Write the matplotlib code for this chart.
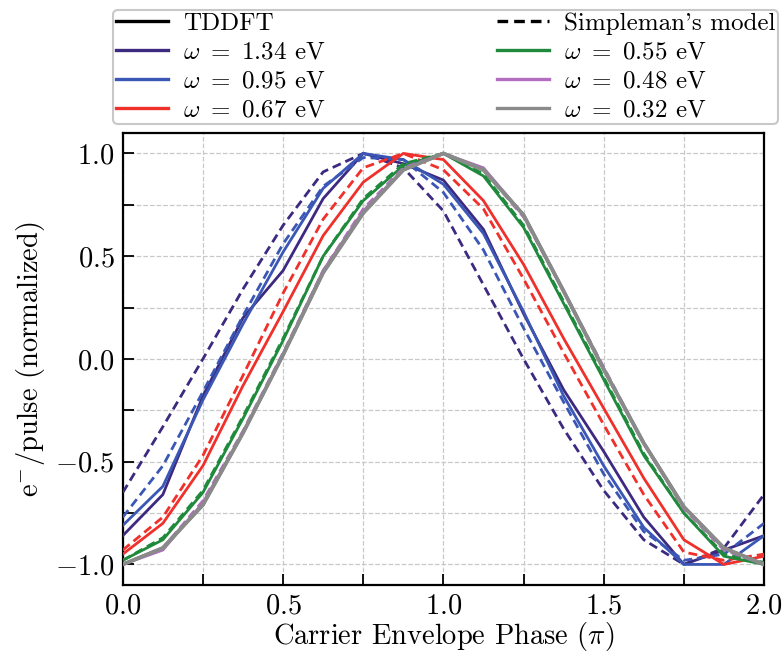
import numpy as np
import matplotlib
matplotlib.use("Agg")
import matplotlib.pyplot as plt
from matplotlib.lines import Line2D
from matplotlib.ticker import MultipleLocator

plt.rcParams['font.family'] = ['cmr10', 'DejaVu Serif']
plt.rcParams['mathtext.fontset'] = 'cm'
plt.rcParams['axes.formatter.use_mathtext'] = True

# carrier envelope phase (units of pi)
cep = np.arange(17) * 0.125

omega_labels = ['1.34', '0.95', '0.67', '0.55', '0.48', '0.32']
colors = ['#3d2a80', '#3a57b5', '#f0302a', '#1f8a3c', '#b26cc0', '#8a8a8a']

# TDDFT (solid)
tddft_134 = [-0.86, -0.66, -0.18, 0.20, 0.43, 0.78, 1.00, 0.95, 0.87, 0.63, 0.22, -0.15, -0.45, -0.77, -1.00, -0.93, -0.86]
tddft_095 = [-0.81, -0.62, -0.20, 0.17, 0.52, 0.83, 1.00, 0.97, 0.85, 0.61, 0.23, -0.18, -0.52, -0.82, -1.00, -1.00, -0.86]
tddft_067 = [-0.95, -0.80, -0.52, -0.13, 0.23, 0.60, 0.86, 1.00, 0.97, 0.77, 0.46, 0.10, -0.24, -0.58, -0.88, -1.00, -0.96]
tddft_055 = [-0.98, -0.88, -0.65, -0.29, 0.09, 0.50, 0.77, 0.94, 1.00, 0.89, 0.64, 0.27, -0.10, -0.47, -0.75, -0.96, -1.00]
tddft_048 = [-1.00, -0.93, -0.70, -0.36, 0.02, 0.43, 0.72, 0.92, 1.00, 0.93, 0.70, 0.33, -0.05, -0.41, -0.72, -0.92, -1.00]
tddft_032 = [-1.00, -0.92, -0.71, -0.36, 0.02, 0.42, 0.71, 0.92, 1.00, 0.92, 0.70, 0.33, -0.05, -0.41, -0.72, -0.92, -1.00]

# Simpleman's model (dashed)
simple_134 = [-0.65, -0.33, 0.00, 0.34, 0.65, 0.91, 1.00, 0.93, 0.72, 0.36, 0.00, -0.34, -0.64, -0.88, -1.00, -0.92, -0.66]
simple_095 = [-0.77, -0.52, -0.16, 0.21, 0.56, 0.84, 0.98, 0.97, 0.81, 0.53, 0.15, -0.21, -0.56, -0.84, -0.98, -0.95, -0.80]
simple_067 = [-0.93, -0.77, -0.47, -0.08, 0.32, 0.68, 0.93, 1.00, 0.92, 0.73, 0.39, 0.03, -0.32, -0.66, -0.94, -0.98, -0.95]
simple_055 = [-0.98, -0.87, -0.64, -0.28, 0.10, 0.50, 0.78, 0.95, 1.00, 0.90, 0.65, 0.28, -0.09, -0.46, -0.75, -0.95, -0.99]
simple_048 = [-1.00, -0.92, -0.69, -0.35, 0.03, 0.43, 0.73, 0.93, 1.00, 0.92, 0.69, 0.33, -0.04, -0.41, -0.73, -0.93, -1.00]
simple_032 = [-1.00, -0.92, -0.71, -0.36, 0.02, 0.42, 0.71, 0.92, 1.00, 0.92, 0.70, 0.33, -0.05, -0.41, -0.72, -0.92, -1.00]

tddft = [tddft_134, tddft_095, tddft_067, tddft_055, tddft_048, tddft_032]
simple = [simple_134, simple_095, simple_067, simple_055, simple_048, simple_032]

fig = plt.figure(figsize=(7.82, 6.61), dpi=100)
ax = fig.add_axes([0.157, 0.115, 0.820, 0.684])

for i, c in enumerate(colors):
    lw = 2.6 if i == 5 else 2.0
    ax.plot(cep, tddft[i], color=c, lw=lw, zorder=3 + i)
    ax.plot(cep, simple[i], color=c, lw=2.0, ls=(0, (3.2, 1.8)), zorder=3 + i)
# grey TDDFT sits on top
ax.plot(cep, tddft[5], color=colors[5], lw=2.6, zorder=20)

ax.set_xlim(0, 2.0)
ax.set_ylim(-1.1, 1.1)
ax.xaxis.set_major_locator(MultipleLocator(0.5))
ax.xaxis.set_minor_locator(MultipleLocator(0.25))
ax.yaxis.set_major_locator(MultipleLocator(0.5))
ax.yaxis.set_minor_locator(MultipleLocator(0.25))
ax.tick_params(which='both', direction='in', labelsize=20.5, top=False, right=False)
ax.tick_params(which='major', length=8, width=1.3, pad=6)
ax.tick_params(which='minor', length=8, width=1.3)
ax.grid(True, which='both', ls='--', color='#c8c8c8', lw=0.9, zorder=0)
for s in ax.spines.values():
    s.set_linewidth(1.6)

ax.set_xlabel(r'Carrier Envelope Phase ($\pi$)', fontsize=20.5, labelpad=0)
ax.set_ylabel(r'e$^{-}$/pulse (normalized)', fontsize=20.5, labelpad=6)

handles = [Line2D([], [], color='black', lw=2.4, label='TDDFT')]
for i in range(3):
    handles.append(Line2D([], [], color=colors[i], lw=2.4,
                          label=r'$\omega\ =\ %s$ eV' % omega_labels[i]))
handles.append(Line2D([], [], color='black', lw=2.4, ls=(0, (3.2, 1.8)),
                      label="Simpleman's model"))
for i in range(3, 6):
    handles.append(Line2D([], [], color=colors[i], lw=2.4,
                          label=r'$\omega\ =\ %s$ eV' % omega_labels[i]))

leg = fig.legend(handles=handles, ncol=2, mode='expand', fontsize=18,
                 bbox_to_anchor=(0.145, 0.812, 0.850, 0.18), loc='lower left',
                 borderaxespad=0, frameon=True, fancybox=True, handlelength=2.1,
                 handletextpad=0.6, labelspacing=0.26, borderpad=0.1,
                 columnspacing=0.5)
leg.get_frame().set_edgecolor('#bbbbbb')
leg.get_frame().set_linewidth(1.5)

fig.savefig('out.png', dpi=100)
